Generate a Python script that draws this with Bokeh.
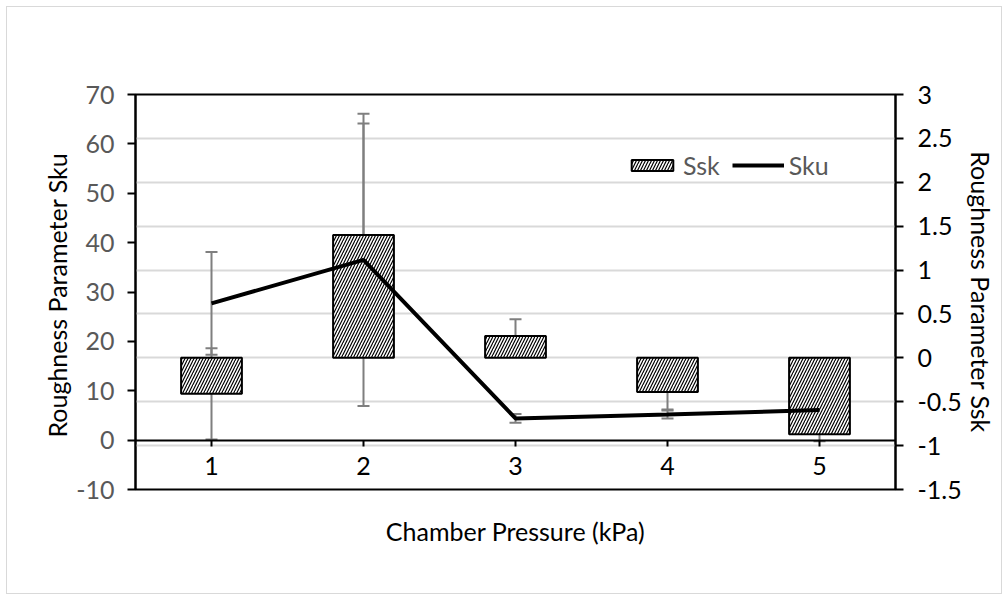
from bokeh.plotting import figure
from bokeh.models import (Range1d, FactorRange, LinearAxis, CategoricalAxis, Grid,
                          Whisker, TeeHead, ColumnDataSource, SingleIntervalTicker,
                          Legend, LegendItem, CustomJSTickFormatter, Title)
from bokeh.embed import file_html
from bokeh.resources import INLINE

# ---- data ----
pressures = ["1", "2", "3", "4", "5"]
ssk = [-0.41, 1.40, 0.25, -0.39, -0.87]
ssk_err = [0.52, 1.27, 0.19, 0.20, 0.08]
sku = [27.7, 36.5, 4.4, 5.2, 6.1]
sku_err = [10.4, 29.6, 0.9, 0.8, 0.4]

FONT = "Lato"
FS = "25px"
GRAY_TXT = "#595959"
ERR = "#7f7f7f"

fmt = CustomJSTickFormatter(code="return String(Math.round(tick*100)/100);")

p = figure(width=994, height=586,
           x_range=FactorRange(*pressures, range_padding=0),
           y_range=Range1d(-10, 70),
           x_axis_location=None, y_axis_location=None,
           output_backend="svg", toolbar_location=None,
           min_border_left=128, min_border_right=106,
           min_border_top=87, min_border_bottom=104)
p.margin = (7, 7, 7, 7)
p.styles = {"outline": "1px solid #d9d9d9"}
p.extra_y_ranges = {"ssk": Range1d(-1.5, 3)}
p.background_fill_color = "white"
p.border_fill_color = "white"
p.outline_line_color = "black"
p.outline_line_width = 2
p.xgrid.visible = False
p.ygrid.visible = False

left = LinearAxis(ticker=SingleIntervalTicker(interval=10), formatter=fmt,
                  axis_label="Roughness Parameter  Sku")
right = LinearAxis(y_range_name="ssk", ticker=SingleIntervalTicker(interval=0.5),
                   formatter=fmt, axis_label="Roughness Parameter Ssk")
for ax, col, ls, ts in ((left, GRAY_TXT, 13, 1), (right, "black", 14, 1)):
    ax.axis_line_color = "black"
    ax.axis_line_width = 2
    ax.major_tick_line_color = "black"
    ax.major_tick_line_width = 2
    ax.major_tick_out = 8
    ax.major_tick_in = 0
    ax.minor_tick_line_color = None
    ax.major_label_text_font = FONT
    ax.major_label_text_font_size = FS
    ax.major_label_text_color = col
    ax.major_label_standoff = ls
    ax.axis_label_text_font = FONT
    ax.axis_label_text_font_size = FS
    ax.axis_label_text_font_style = "normal"
    ax.axis_label_text_color = "black"
    ax.axis_label_standoff = ts
p.add_layout(left, "left")
p.add_layout(right, "right")

p.add_layout(Grid(dimension=1, ticker=right.ticker, y_range_name="ssk",
                  grid_line_color="#d9d9d9", grid_line_width=2))

xtitle = Title(text="Chamber Pressure (kPa)", align="center",
               text_font=FONT, text_font_size=FS, text_font_style="normal",
               text_color="black", standoff=48)
p.add_layout(xtitle, "below")
xcat = CategoricalAxis(fixed_location=0, axis_line_color="black", axis_line_width=2,
                       major_tick_line_color="black", major_tick_line_width=2,
                       major_tick_out=6, major_tick_in=0,
                       major_label_text_font=FONT, major_label_text_font_size=FS,
                       major_label_text_color="black", major_label_standoff=11)
p.add_layout(xcat, "below")

bar_src = ColumnDataSource(dict(x=pressures, top=ssk,
                                upper=[v + e for v, e in zip(ssk, ssk_err)],
                                lower=[v - e for v, e in zip(ssk, ssk_err)]))
bars = p.vbar(x="x", top="top", bottom=0, width=0.4, source=bar_src,
              y_range_name="ssk", fill_color="white", line_color="black",
              line_width=2, hatch_pattern="/", hatch_color="black",
              hatch_scale=6, hatch_weight=1.2)

line_src = ColumnDataSource(dict(x=pressures, y=sku,
                                 upper=[v + e for v, e in zip(sku, sku_err)],
                                 lower=[v - e for v, e in zip(sku, sku_err)]))
line = p.line(x="x", y="y", source=line_src, line_color="black", line_width=4)

for src, rng in ((bar_src, "ssk"), (line_src, "default")):
    w = Whisker(source=src, base="x", upper="upper", lower="lower",
                dimension="height", line_color=ERR, line_width=2,
                upper_head=TeeHead(size=12, line_color=ERR, line_width=2),
                lower_head=TeeHead(size=12, line_color=ERR, line_width=2),
                y_range_name=rng)
    p.add_layout(w)

legend = Legend(items=[LegendItem(label="Ssk", renderers=[bars]),
                       LegendItem(label="Sku", renderers=[line])],
                orientation="horizontal", location=(491, 309),
                padding=0, margin=0, spacing=12, label_standoff=5,
                glyph_width=52, glyph_height=14,
                label_text_font=FONT, label_text_font_size=FS,
                label_text_color=GRAY_TXT,
                background_fill_alpha=0, border_line_color=None)
p.add_layout(legend)

open("out.html", "w").write(file_html(p, INLINE))
